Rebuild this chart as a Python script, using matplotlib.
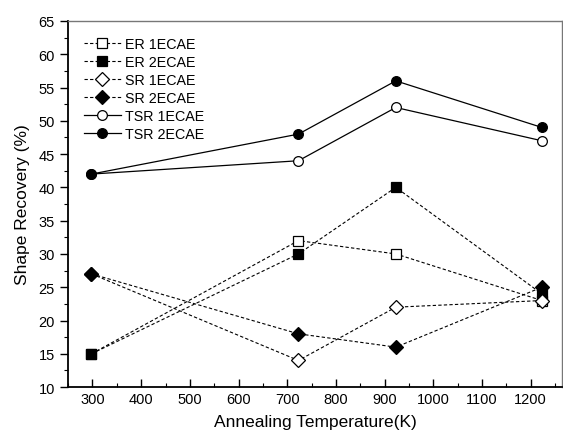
import matplotlib
matplotlib.use("Agg")
import matplotlib.pyplot as plt
from matplotlib.ticker import MultipleLocator

plt.rcParams['font.family'] = ['Liberation Sans', 'DejaVu Sans']

# annealing temperatures (K)
temps = [298, 723, 923, 1223]

# shape recovery (%)
er_1ecae = [15, 32, 30, 23]
er_2ecae = [15, 30, 40, 24]
sr_1ecae = [27, 14, 22, 23]
sr_2ecae = [27, 18, 16, 25]
tsr_1ecae = [42, 44, 52, 47]
tsr_2ecae = [42, 48, 56, 49]

fig = plt.figure(figsize=(5.63, 4.39), dpi=100)
ax = fig.add_axes([0.121, 0.116, 0.877, 0.834])

dash = dict(ls=(0, (3, 2)), lw=0.8, color='black', mec='black', mew=0.9)
solid = dict(ls='-', lw=0.9, color='black', mec='black', mew=0.9)

ax.plot(temps, er_1ecae, marker='s', ms=6.5, mfc='white', label='ER 1ECAE', **dash)
ax.plot(temps, er_2ecae, marker='s', ms=6.5, mfc='black', label='ER 2ECAE', **dash)
ax.plot(temps, sr_1ecae, marker='D', ms=7.5, mfc='white', label='SR 1ECAE', **dash)
ax.plot(temps, sr_2ecae, marker='D', ms=7.5, mfc='black', label='SR 2ECAE', **dash)
ax.plot(temps, tsr_1ecae, marker='o', ms=7, mfc='white', label='TSR 1ECAE', **solid)
ax.plot(temps, tsr_2ecae, marker='o', ms=7, mfc='black', label='TSR 2ECAE', **solid)

ax.set_xlim(250, 1264)
ax.set_ylim(10, 65)
ax.xaxis.set_major_locator(MultipleLocator(100))
ax.xaxis.set_minor_locator(MultipleLocator(50))
ax.yaxis.set_major_locator(MultipleLocator(5))
ax.yaxis.set_minor_locator(MultipleLocator(2.5))

ax.tick_params(axis='x', which='both', direction='in', top=False, labelsize=10.5)
ax.tick_params(axis='y', which='both', direction='out', right=False, labelsize=10.5)
ax.tick_params(which='major', length=6, width=1)
ax.tick_params(which='minor', length=3, width=0.8)

for side in ['left', 'bottom']:
    ax.spines[side].set_linewidth(1.3)
for side in ['top', 'right']:
    ax.spines[side].set_linewidth(1.0)
    ax.spines[side].set_color('#777777')

ax.set_xlabel('Annealing Temperature(K)', fontsize=12.5, labelpad=6)
ax.set_ylabel('Shape Recovery (%)', fontsize=12.5, labelpad=6)

ax.legend(loc='upper left', bbox_to_anchor=(0.0, 1.0), frameon=False, fontsize=10.3,
          handlelength=2.6, labelspacing=0.28, handletextpad=0.3, borderpad=0.6)

fig.savefig('out.png', dpi=100)
